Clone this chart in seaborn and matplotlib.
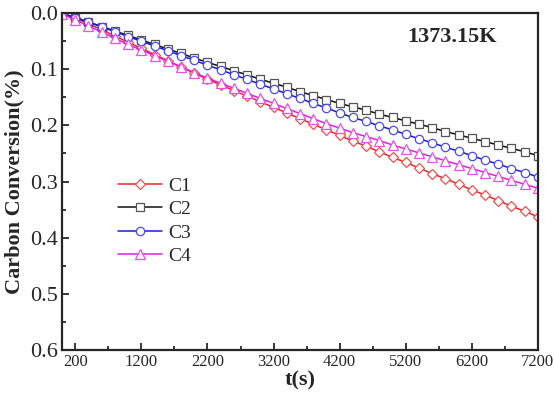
import numpy as np
import pandas as pd
import seaborn as sns
import matplotlib.pyplot as plt
from matplotlib.ticker import MultipleLocator, FixedLocator

t = list(range(0, 7201, 200))

c1 = [0.002, 0.009, 0.019, 0.030, 0.041, 0.052, 0.063, 0.074, 0.085, 0.096,
      0.107, 0.118, 0.128, 0.138, 0.148, 0.158, 0.168, 0.178, 0.188, 0.198,
      0.208, 0.218, 0.228, 0.237, 0.247, 0.257, 0.266, 0.276, 0.286, 0.295,
      0.305, 0.315, 0.324, 0.334, 0.344, 0.353, 0.363]
c2 = [0.001, 0.008, 0.016, 0.024, 0.032, 0.040, 0.048, 0.056, 0.064, 0.072,
      0.080, 0.088, 0.095, 0.103, 0.110, 0.118, 0.125, 0.132, 0.140, 0.147,
      0.154, 0.161, 0.167, 0.173, 0.180, 0.186, 0.192, 0.198, 0.204, 0.211,
      0.217, 0.223, 0.229, 0.235, 0.241, 0.247, 0.254]
c3 = [0.001, 0.008, 0.016, 0.025, 0.033, 0.042, 0.050, 0.059, 0.067, 0.076,
      0.084, 0.093, 0.101, 0.110, 0.118, 0.127, 0.135, 0.144, 0.152, 0.161,
      0.169, 0.178, 0.186, 0.193, 0.201, 0.208, 0.216, 0.224, 0.231, 0.239,
      0.246, 0.254, 0.262, 0.269, 0.277, 0.284, 0.292]
c4 = [0.002, 0.012, 0.023, 0.034, 0.045, 0.056, 0.066, 0.076, 0.086, 0.096,
      0.106, 0.116, 0.125, 0.134, 0.143, 0.152, 0.161, 0.170, 0.179, 0.188,
      0.197, 0.205, 0.213, 0.220, 0.227, 0.235, 0.242, 0.249, 0.256, 0.263,
      0.270, 0.277, 0.284, 0.291, 0.298, 0.305, 0.312]

names = ['C1', 'C2', 'C3', 'C4']
series = [c1, c2, c3, c4]
line_colors = ['#e8262a', '#111111', '#1a1ad8', '#e020e0']
edge_colors = ['#f05050', '#555555', '#4a4af0', '#e850e8']
markers = ['D', 's', 'o', '^']
msizes = [5.5, 5.5, 6.0, 6.5]

x_ticks = [200, 1200, 2200, 3200, 4200, 5200, 6200, 7200]

sns.set_style('ticks')
plt.rcParams['font.family'] = ['Liberation Serif', 'DejaVu Serif']

fig = plt.figure(figsize=(5.54, 3.95), dpi=100)
ax = fig.add_axes([0.112, 0.114, 0.859, 0.853])

for name, vals, lc, ec, mk, ms in zip(names, series, line_colors, edge_colors, markers, msizes):
    df = pd.DataFrame({'t': t, 'v': vals})
    sns.lineplot(data=df, x='t', y='v', ax=ax, color=lc, lw=1.1,
                 marker=mk, markersize=ms, mfc='white', mec=ec, mew=0.9,
                 label=name)

ax.set_xlim(0, 7200)
ax.set_ylim(0.6, 0.0)
ax.xaxis.set_major_locator(FixedLocator(x_ticks))
ax.xaxis.set_minor_locator(FixedLocator([700, 1700, 2700, 3700, 4700, 5700, 6700]))
ax.yaxis.set_major_locator(MultipleLocator(0.1))
ax.yaxis.set_minor_locator(MultipleLocator(0.05))
ax.set_xticklabels([str(v) for v in x_ticks], fontsize=12)
ax.set_yticklabels([f'{v:.1f}' for v in ax.get_yticks()], fontsize=16)
ax.tick_params(which='both', direction='in', top=False, right=False, width=1.3)
ax.tick_params(which='major', length=5, pad=3)
ax.tick_params(which='minor', length=3)
for s in ax.spines.values():
    s.set_linewidth(1.6)

ax.set_xlabel('t(s)', fontsize=16, fontweight='bold', labelpad=0)
ax.set_ylabel('Carbon Conversion(%)', fontsize=16, fontweight='bold', labelpad=4)
ax.text(0.82, 0.929, '1373.15K', transform=ax.transAxes, ha='center', va='center',
        fontsize=16, fontweight='bold')

leg = ax.legend(loc='upper left', bbox_to_anchor=(0.08, 0.565), frameon=False,
                fontsize=14, handlelength=2.3, handletextpad=0.3, labelspacing=0.3)

fig.savefig('out.png', dpi=100)
